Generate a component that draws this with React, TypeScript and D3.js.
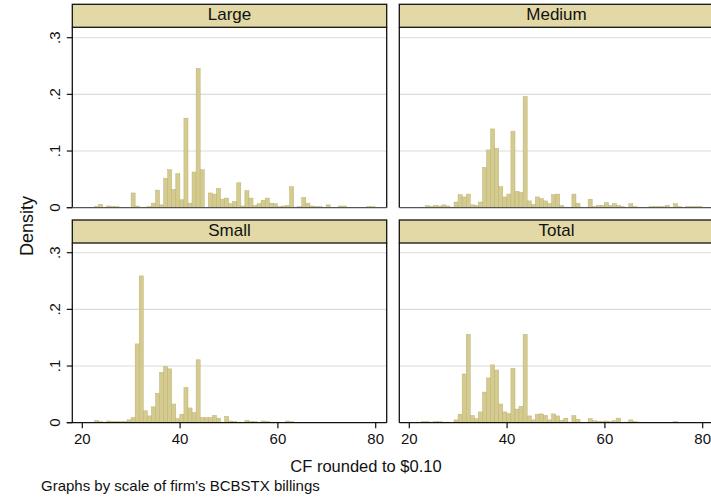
import React from "react";
import * as d3 from "d3";

// Histogram bins (Stata style: common start and width)
const BIN_START = 22.5;
const BIN_WIDTH = 0.831;

const PANEL_NAMES = ["Large", "Medium", "Small", "Total"];

// densities per bin (bin k starts at BIN_START + k*BIN_WIDTH)
const large = [
  0.002, 0.006, 0, 0.003, 0.002, 0.002, 0, 0, 0, 0.026,
  0.003, 0, 0.001, 0.002, 0.008, 0.031, 0.005, 0.052, 0.067, 0.032,
  0.060, 0.014, 0.158, 0.008, 0.063, 0.246, 0.067, 0, 0.026, 0.024,
  0.034, 0.015, 0.017, 0.007, 0.011, 0.044, 0.003, 0.030, 0.017, 0.004,
  0.007, 0.013, 0.017, 0.008, 0.007, 0.002, 0.003, 0.004, 0.037, 0.001,
  0.002, 0.018, 0.008, 0.003, 0.002, 0.002, 0, 0.005, 0, 0,
  0.003, 0.003, 0, 0, 0, 0, 0, 0.002, 0.002, 0,
];
const medium = [
  0.001, 0.0035, 0.002, 0.004, 0.003, 0.005, 0.003, 0.001, 0.010, 0.023,
  0.019, 0.024, 0.005, 0.004, 0.010, 0.071, 0.102, 0.139, 0.105, 0.037,
  0.019, 0.024, 0.135, 0.029, 0.027, 0.196, 0.012, 0.006, 0.019, 0.016,
  0.012, 0.007, 0.023, 0.024, 0.004, 0.001, 0, 0.024, 0.008, 0.001,
  0, 0.015, 0.002, 0.004, 0.004, 0.009, 0.004, 0.007, 0.004, 0.002,
  0, 0.007, 0.002, 0.001, 0, 0, 0.002, 0.002, 0.002, 0.002,
  0.004, 0, 0.007, 0.002, 0, 0.002, 0.002, 0.002, 0.002, 0,
];
const small = [
  0.004, 0.002, 0.001, 0.003, 0.002, 0.002, 0.002, 0.002, 0.005, 0.009,
  0.139, 0.259, 0.021, 0.012, 0.028, 0.052, 0.089, 0.099, 0.095, 0.033,
  0.007, 0.015, 0.062, 0.026, 0.018, 0.111, 0.009, 0.009, 0.009, 0.013,
  0.008, 0.001, 0.011, 0.003, 0.002, 0.001, 0, 0.004, 0.002, 0.002,
  0, 0.003, 0.002, 0.001, 0.001, 0.001, 0, 0.003, 0.002, 0,
  0, 0, 0, 0, 0, 0, 0, 0, 0, 0,
  0, 0, 0, 0, 0, 0, 0, 0, 0, 0,
];
const total = [
  0.002, 0.002, 0.001, 0.002, 0.002, 0.001, 0.001, 0.0005, 0.005, 0.015,
  0.086, 0.156, 0.0125, 0.007, 0.019, 0.054, 0.079, 0.102, 0.093, 0.033,
  0.019, 0.016, 0.096, 0.024, 0.029, 0.156, 0.012, 0.005, 0.015, 0.0155,
  0.013, 0.005, 0.0155, 0.012, 0.004, 0.008, 0.001, 0.0125, 0.006, 0.001,
  0, 0.007, 0.0035, 0.0025, 0.0025, 0.003, 0.002, 0.0035, 0.008, 0,
  0.001, 0.005, 0.002, 0.001, 0, 0, 0, 0, 0, 0,
  0, 0, 0.002, 0, 0, 0, 0, 0, 0, 0,
];

const SERIES = [large, medium, small, total];

const Y_TICKS = [0, 0.1, 0.2, 0.3];
const Y_TICK_LABELS = ["0", ".1", ".2", ".3"];
const X_TICKS = [20, 40, 60, 80];
const X_TICK_LABELS = ["20", "40", "60", "80"];

const Y_TITLE = "Density";
const X_TITLE = "CF rounded to $0.10";
const NOTE = "Graphs by scale of firm's BCBSTX billings";

const FONT = "'Liberation Sans', Arial, Helvetica, sans-serif";
const BAR_FILL = "#D4CB8E";
const BAR_STROKE = "#BDB274";
const HEADER_FILL = "#E2D9A6";
const GRID = "#DCDCDC";

const COLS = [72.3, 399.3];
const PANEL_W = 314.4;
const ROWS = [
  { headerTop: 4.3, plotTop: 27.3, base: 207.7 },
  { headerTop: 220, plotTop: 243, base: 422.7 },
];

function Panel({ idx }: { idx: number }) {
  const col = idx % 2;
  const row = Math.floor(idx / 2);
  const x0 = COLS[col];
  const x1 = x0 + PANEL_W;
  const r = ROWS[row];
  const xs = d3.scaleLinear().domain([20, 80]).range([x0 + 10, x0 + 10 + 293.4]);
  const ys = d3.scaleLinear().domain([0, 0.3]).range([r.base, r.base - 170]);
  const data = SERIES[idx];
  const bins = data.map((v, k) => ({ x: BIN_START + k * BIN_WIDTH, v }));
  const showY = col === 0;
  const showX = row === 1;
  return (
    <g>
      {/* header */}
      <rect
        x={x0}
        y={r.headerTop}
        width={PANEL_W}
        height={r.plotTop - r.headerTop}
        fill={HEADER_FILL}
        stroke="#111"
        strokeWidth={1.3}
      />
      <text
        x={(x0 + x1) / 2}
        y={r.headerTop + 15.6}
        textAnchor="middle"
        fontSize={17}
        fontFamily={FONT}
        fill="#111"
      >
        {PANEL_NAMES[idx]}
      </text>
      {/* grid */}
      {Y_TICKS.filter((t) => t > 0).map((t) => (
        <line key={t} x1={x0} x2={x1} y1={ys(t)} y2={ys(t)} stroke={GRID} strokeWidth={1.1} />
      ))}
      {/* bars */}
      {bins
        .filter((b) => b.v > 0)
        .map((b, i) => (
          <rect
            key={i}
            x={xs(b.x)}
            y={ys(b.v)}
            width={xs(b.x + BIN_WIDTH) - xs(b.x)}
            height={ys(0) - ys(b.v)}
            fill={BAR_FILL}
            stroke={BAR_STROKE}
            strokeWidth={0.5}
          />
        ))}
      {/* frame */}
      <line x1={x0} x2={x0} y1={r.plotTop} y2={r.base} stroke="#111" strokeWidth={1.3} />
      <line x1={x1} x2={x1} y1={r.plotTop} y2={r.base} stroke="#111" strokeWidth={1.3} />
      <line
        x1={showY ? x0 - 5.5 : x0}
        x2={x1}
        y1={r.base}
        y2={r.base}
        stroke={showX ? "#111" : "#555"}
        strokeWidth={1.2}
      />
      {showY &&
        Y_TICKS.map((t, i) => (
          <g key={t}>
            <line x1={x0 - 5.5} x2={x0} y1={ys(t)} y2={ys(t)} stroke="#111" strokeWidth={1.2} />
            <text
              transform={`translate(59.5,${ys(t)}) rotate(-90)`}
              textAnchor="middle"
              fontSize={15}
              fontFamily={FONT}
              fill="#111"
            >
              {Y_TICK_LABELS[i]}
            </text>
          </g>
        ))}
      {showX &&
        X_TICKS.map((t, i) => (
          <g key={t}>
            <line x1={xs(t)} x2={xs(t)} y1={r.base} y2={r.base + 5.5} stroke="#111" strokeWidth={1.2} />
            <text x={xs(t)} y={443.5} textAnchor="middle" fontSize={15} fontFamily={FONT} fill="#111">
              {X_TICK_LABELS[i]}
            </text>
          </g>
        ))}
    </g>
  );
}

export default function App() {
  return (
    <svg
      width={711}
      height={498}
      style={{ position: "absolute", left: 0, top: 0, background: "#fff" }}
    >
      <rect x={0} y={0} width={711} height={498} fill="#fff" />
      {PANEL_NAMES.map((_, i) => (
        <Panel key={i} idx={i} />
      ))}
      <text
        transform="translate(32.5,226) rotate(-90)"
        textAnchor="middle"
        fontSize={18}
        fontFamily={FONT}
        fill="#111"
      >
        {Y_TITLE}
      </text>
      <text x={366} y={472} textAnchor="middle" fontSize={16.5} fontFamily={FONT} fill="#111">
        {X_TITLE}
      </text>
      <text x={41} y={491} fontSize={15} fontFamily={FONT} fill="#111">
        {NOTE}
      </text>
    </svg>
  );
}
